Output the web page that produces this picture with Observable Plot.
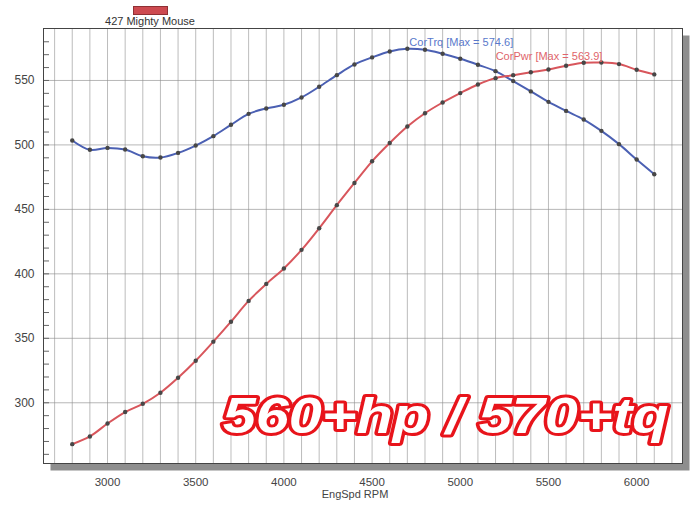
<!DOCTYPE html>
<html>
<head>
<meta charset="utf-8">
<script src="https://cdn.jsdelivr.net/npm/d3@7"></script>
<script src="https://cdn.jsdelivr.net/npm/@observablehq/plot@0.6"></script>
<style>
  body { margin: 0; background: #fff; font-family: "Liberation Sans", Arial, sans-serif; }
  #wrap { position: relative; width: 700px; height: 505px; overflow: hidden; }
  #legend { position: relative; height: 27px; }
  #legend .sw { position: absolute; left: 133px; top: 6px; width: 33px; height: 7px; background: #cd4a50; border: 1px solid #8f3034; }
  #legend .lt { position: absolute; left: 50px; width: 200px; top: 15px; text-align: center; font-size: 11px; line-height: 13px; color: #333; }
  #chart { height: 460px; }
  #cap { position: absolute; left: 255px; width: 200px; top: 487px; text-align: center; font-size: 11px; line-height: 14px; color: #444; }
</style>
</head>
<body>
<div id="wrap">
  <div id="legend"><div class="sw"></div><div class="lt">427 Mighty Mouse</div></div>
  <div id="chart"></div>
  <div id="cap">EngSpd RPM</div>
</div>
<script>
// ---- data ----
const rpm = [2800, 2900, 3000, 3100, 3200, 3300, 3400, 3500, 3600, 3700, 3800, 3900, 4000, 4100, 4200, 4300, 4400,
             4500, 4600, 4700, 4800, 4900, 5000, 5100, 5200, 5300, 5400, 5500, 5600, 5700, 5800, 5900, 6000, 6100];
const corTrq = [503.4, 496.2, 497.7, 496.4, 491.2, 490.2, 493.8, 499.5, 506.8, 515.6, 524.1, 528.3, 531.1, 536.8, 545.1, 554.1, 562.4,
                567.9, 572.5, 574.6, 573.8, 570.7, 566.8, 562.2, 557.2, 549.5, 541.5, 533.4, 526.4, 519.7, 510.9, 500.6, 488.7, 477.3];
const corPwr = [267.9, 273.9, 283.9, 292.8, 299.2, 307.8, 319.4, 332.6, 347.4, 362.9, 379.0, 392.2, 404.2, 418.6, 435.4, 453.3, 470.5,
                487.3, 501.5, 514.3, 524.6, 532.9, 540.2, 546.9, 551.8, 554.1, 556.4, 558.5, 561.4, 563.7, 563.9, 562.7, 558.3, 554.7];
const seriesNames = ["CorTrq", "CorPwr"];
const seriesColors = ["#4b60b3", "#d8565c"];
const xTicks = [3000, 3500, 4000, 4500, 5000, 5500, 6000];
const xGrid = d3.range(2700, 6201, 100);
const yTicks = [300, 350, 400, 450, 500, 550];
const yMinor = d3.range(260, 590, 10);
const maxTrq = [{rpm: 4700, value: 574.6, text: "CorTrq [Max = 574.6]"}];
const maxPwr = [{rpm: 5800, value: 563.9, text: "CorPwr [Max = 563.9]"}];
const annotationText = "560+hp / 570+tq";
const annotation = [{rpm: 4917, value: 276.7, text: annotationText}];

const table = rpm.flatMap((r, i) => [
  {rpm: r, value: corTrq[i], series: seriesNames[0]},
  {rpm: r, value: corPwr[i], series: seriesNames[1]}
]);

const FONT = '"Liberation Sans", Arial, sans-serif';

const chart = Plot.plot({
  width: 700,
  height: 460,
  marginTop: 1,
  marginLeft: 43,
  marginRight: 18,
  marginBottom: 24,
  style: {fontFamily: FONT, background: "transparent", overflow: "visible", color: "#333"},
  x: {domain: [2637, 6260]},
  y: {domain: [252.9, 590.3]},
  color: {domain: seriesNames, range: seriesColors},
  marks: [
    Plot.frame({fill: "#8e8e8e", stroke: "none", dx: 7, dy: 7}),
    Plot.frame({fill: "white", stroke: "none"}),
    Plot.gridX({ticks: xGrid, stroke: "#8c8c8c", strokeOpacity: 0.65, strokeWidth: 0.9}),
    Plot.gridY({ticks: yTicks, stroke: "#8c8c8c", strokeOpacity: 0.7, strokeWidth: 0.9}),
    Plot.axisY({ticks: yMinor, tickSize: 6, dx: 6, tickFormat: () => "", label: null, stroke: "#666"}),
    Plot.axisY({ticks: yTicks, tickSize: 0, tickPadding: 9, fontSize: 12, fill: "#444", label: null, tickFormat: "d"}),
    Plot.axisX({ticks: xTicks, tickSize: 0, tickPadding: 14, fontSize: 11.5, fill: "#444", label: null, tickFormat: "d"}),
    Plot.line(table, {x: "rpm", y: "value", z: "series", stroke: "series", strokeWidth: 2, curve: "catmull-rom"}),
    Plot.dot(table, {x: "rpm", y: "value", r: 2.2, fill: "#474747", stroke: "none"}),
    Plot.text(maxTrq, {x: "rpm", y: "value", text: "text", textAnchor: "start", dx: 2, dy: -6, fontSize: 11, fill: "#5a79cb"}),
    Plot.text(maxPwr, {x: "rpm", y: "value", text: "text", textAnchor: "end", dx: 1, dy: -6, fontSize: 11, fill: "#e0646a"}),
    Plot.text(annotation, {x: "rpm", y: "value", text: "text", textAnchor: "middle", lineAnchor: "bottom",
      fontSize: 50, fontWeight: "bold", fontStyle: "italic", fill: "white", stroke: "#e8141b", strokeWidth: 6,
      paintOrder: "stroke", strokeLinejoin: "round"}),
    Plot.frame({stroke: "#444", strokeWidth: 1})
  ]
});

document.getElementById("chart").appendChild(chart);

// stretch the bold annotation to the width it has in the reference
chart.querySelectorAll("text").forEach(t => {
  if (t.textContent === annotationText) {
    t.setAttribute("textLength", "446");
    t.setAttribute("lengthAdjust", "spacingAndGlyphs");
    t.style.fontWeight = "900";
  }
});
</script>
</body>
</html>
